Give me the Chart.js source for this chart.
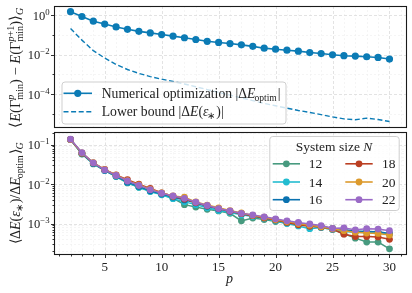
<!DOCTYPE html>
<html><head><meta charset="utf-8">
<script src="https://cdn.jsdelivr.net/npm/chart.js@4"></script>
<style>
html,body{margin:0;padding:0;background:#fff;}
#wrap{position:relative;width:412px;height:293px;overflow:hidden;}
#c1{position:absolute;left:0;top:0;}
#c2{position:absolute;left:0;top:129px;}
</style></head><body>
<div id="wrap">
<canvas id="c1" width="412" height="131"></canvas>
<canvas id="c2" width="412" height="164"></canvas>
</div>
<script>
// ---------------- data ----------------
const pValues = [2,3,4,5,6,7,8,9,10,11,12,13,14,15,16,17,18,19,20,21,22,23,24,25,26,27,28,29,30];
const optimGap = [1.5,0.85,0.49,0.35,0.25,0.19,0.15,0.125,0.103,0.086,0.071,0.058,0.047,0.041,0.036,0.031,0.026,0.021,0.0186,0.0166,0.0148,0.0126,0.0112,0.0097,0.0087,0.0083,0.0077,0.0071,0.0059];
const lowerBound = [0.209,0.0537,0.0158,0.0066,0.0031,0.00174,0.0011,0.00076,0.00056,0.00043,0.00032,0.00023,0.000166,0.00012,0.000087,0.000063,0.000046,0.000033,0.000025,0.000019,0.0000145,0.0000115,0.0000089,0.0000068,0.0000054,0.0000049,0.0000059,0.000005,0.000004];
const sizeLabels = ['12','14','16','18','20','22'];
const ratioN12 = [0.134,0.058,0.0325,0.022,0.0156,0.0107,0.00832,0.00661,0.0055,0.00437,0.00302,0.00263,0.00229,0.00209,0.00182,0.00117,0.00138,0.00126,0.00112,0.00102,0.000933,0.000871,0.000794,0.000708,0.00055,0.000427,0.000339,0.000339,0.000229];
const ratioN14 = [0.135,0.059,0.033,0.0222,0.0158,0.011,0.00832,0.00646,0.00537,0.00427,0.00355,0.00302,0.00251,0.00214,0.00191,0.00166,0.00151,0.00135,0.00117,0.001,0.000871,0.000741,0.000794,0.000708,0.000631,0.000603,0.000589,0.000575,0.000537];
const ratioN16 = [0.137,0.06,0.0335,0.0225,0.016,0.0112,0.00871,0.00676,0.00562,0.00468,0.00398,0.00331,0.00275,0.00234,0.00204,0.00178,0.00158,0.00141,0.00126,0.00112,0.00102,0.000912,0.000832,0.000759,0.000692,0.000646,0.000631,0.000617,0.000562];
const ratioN18 = [0.135,0.061,0.0345,0.0235,0.0172,0.0129,0.01,0.00776,0.00603,0.0049,0.00417,0.00339,0.00282,0.0024,0.00204,0.00178,0.00158,0.00138,0.00123,0.00107,0.000933,0.000851,0.000813,0.000724,0.000537,0.000468,0.000468,0.000457,0.000398];
const ratioN20 = [0.136,0.062,0.035,0.0232,0.0168,0.0123,0.0095,0.0074,0.006,0.005,0.00468,0.00355,0.00295,0.00251,0.00214,0.00186,0.00162,0.00145,0.00126,0.00112,0.001,0.000912,0.000832,0.000741,0.000661,0.000603,0.000575,0.000562,0.000513];
const ratioN22 = [0.138,0.0631,0.0347,0.0229,0.0166,0.012,0.00933,0.00724,0.00589,0.00501,0.00437,0.00347,0.00288,0.0024,0.00209,0.00182,0.00166,0.00148,0.00132,0.00117,0.00107,0.000977,0.000891,0.000759,0.000776,0.000692,0.000741,0.000724,0.000661];
const xMajorTicks = [5,10,15,20,25,30];
const xMinorTicks = [1,2,3,4,6,7,8,9,11,12,13,14,16,17,18,19,21,22,23,24,26,27,28,29,31];
const topYMajorExp = [0,-2,-4];
const topYMinorExp = [-1,-3,-5];
const botYMajorExp = [-1,-2,-3];
const botYMinorMult = [2,3,4,5,6,7,8,9];

// ---------------- styles ----------------
const TOPC = '#0b7bb5';
const sizeColors = ['#479a7f','#22bcd0','#0a72b0','#bb3f22','#dc9a2c','#9a6ac6'];
const XMIN = 0.55, XMAX = 31.45;
const SERIF = '"Liberation Serif","Times New Roman",serif';
function fnt(sz,it){return (it?'italic ':'')+sz+'px '+SERIF;}
function runW(ctx,arr,sz){let w=0;for(const [t,it] of arr){ctx.font=fnt(sz,it);w+=ctx.measureText(t).width;}return w;}
function mathWidth(ctx,segs,sz){let w=0;const ss=sz*0.7;for(const s of segs){ctx.font=fnt(sz,s[1]);w+=ctx.measureText(s[0]).width;const a=s[2]?runW(ctx,s[2],ss):0,b=s[3]?runW(ctx,s[3],ss):0;w+=Math.max(a,b);}return w;}
function drawRun(ctx,arr,x,y,sz){for(const [t,it] of arr){ctx.font=fnt(sz,it);ctx.fillText(t,x,y);x+=ctx.measureText(t).width;}}
function drawMath(ctx,segs,x,y,sz,align){
  const W=mathWidth(ctx,segs,sz);
  if(align==='center')x-=W/2;else if(align==='right')x-=W;
  ctx.textAlign='left';ctx.textBaseline='alphabetic';
  const ss=sz*0.7;
  for(const s of segs){
    ctx.font=fnt(sz,s[1]);ctx.fillText(s[0],x,y);x+=ctx.measureText(s[0]).width;
    let a=0,b=0;
    if(s[2]){drawRun(ctx,s[2],x,y-sz*0.4,ss);a=runW(ctx,s[2],ss);}
    if(s[3]){drawRun(ctx,s[3],x-(s[1]?1:0),y+sz*0.22,ss);b=runW(ctx,s[3],ss);}
    x+=Math.max(a,b);
  }
}
function expLabel(e){return [['10',0,[[e<0?'−'+(-e):String(e),0]]]];}

const topYLabel=[['⟨',0],['E',1],['(',0],['Γ',0,[['p',1]],[['min',0]]],[')',0],[' − ',0],['E',1],['(',0],['Γ',0,[['p',1],['+1',0]],[['min',0]]],[')',0],['⟩',0,null,[['G',1]]]];
const botYLabel=[['⟨',0],['Δ',0],['E',1],['(',0],['ε',1,null,[['∗',0]]],[')',0],['/',0],['Δ',0],['E',1,null,[['optim',0]]],['⟩',0,null,[['G',1]]]];
const legOptim=[['Numerical optimization ',0],['|',0],['Δ',0],['E',1,null,[['optim',0]]],['|',0]];
const legBound=[['Lower bound ',0],['|',0],['Δ',0],['E',1],['(',0],['ε',1,null,[['∗',0]]],[')',0],['|',0]];
const legTitle=[['System size ',0],['N',1]];

function setTicks(list){return list.map(o=>({value:o[0],major:o[1]}));}

function drawGrid(chart){
  const {ctx,chartArea:a,scales:{x,y}}=chart;
  ctx.save();ctx.beginPath();ctx.rect(a.left,a.top,a.right-a.left,a.bottom-a.top);ctx.clip();
  for(const pass of [false,true]){
    ctx.strokeStyle=pass?'#dcdcdc':'#efefef';ctx.lineWidth=pass?0.8:0.6;ctx.setLineDash(pass?[3,2]:[2,2]);
    for(const t of x.ticks){if(!!t.major!==pass)continue;const px=Math.round(x.getPixelForValue(t.value))+0.5;ctx.beginPath();ctx.moveTo(px,a.top);ctx.lineTo(px,a.bottom);ctx.stroke();}
    for(const t of y.ticks){if(!!t.major!==pass)continue;const py=Math.round(y.getPixelForValue(t.value))+0.5;ctx.beginPath();ctx.moveTo(a.left,py);ctx.lineTo(a.right,py);ctx.stroke();}
  }
  ctx.restore();
}
function drawFrame(chart,xTicksOn){
  const {ctx,chartArea:a,scales:{x,y}}=chart;
  ctx.save();ctx.strokeStyle='#1a1a1a';ctx.lineWidth=1.1;ctx.setLineDash([]);
  const L=Math.floor(a.left)+0.5,R=Math.floor(a.right)+0.5,T=Math.floor(a.top)+0.5,B=Math.floor(a.bottom)+0.5;
  ctx.strokeRect(L,T,R-L,B-T);
  ctx.lineWidth=0.9;
  for(const t of y.ticks){const py=Math.round(y.getPixelForValue(t.value))+0.5;if(py<T-1||py>B+1)continue;ctx.beginPath();ctx.moveTo(L,py);ctx.lineTo(L-(t.major?3.5:2),py);ctx.stroke();}
  if(xTicksOn){for(const t of x.ticks){const px=Math.round(x.getPixelForValue(t.value))+0.5;if(px<L||px>R)continue;ctx.beginPath();ctx.moveTo(px,B);ctx.lineTo(px,B+(t.major?3.5:2));ctx.stroke();}}
  ctx.restore();
}
function drawYTickLabels(chart){
  const {ctx,chartArea:a,scales:{y}}=chart;
  ctx.save();ctx.fillStyle='#222';
  for(const t of y.ticks){if(!t.major)continue;const py=y.getPixelForValue(t.value);drawMath(ctx,expLabel(Math.round(Math.log10(t.value))),a.left-4.5,py+4.6,12.5,'right');}
  ctx.restore();
}
function legendBox(ctx,x0,y0,x1,y1){
  ctx.save();ctx.beginPath();ctx.roundRect(x0+0.5,y0+0.5,x1-x0,y1-y0,3);ctx.fillStyle='rgba(255,255,255,0.8)';ctx.fill();ctx.strokeStyle='#cfcfcf';ctx.lineWidth=1;ctx.stroke();ctx.restore();
}
function handle(ctx,xa,xb,y,color,dash,marker,r){
  ctx.save();ctx.strokeStyle=color;ctx.lineWidth=dash?1.4:1.6;ctx.setLineDash(dash||[]);ctx.beginPath();ctx.moveTo(xa,y);ctx.lineTo(xb,y);ctx.stroke();
  if(marker){ctx.fillStyle=color;ctx.beginPath();ctx.arc((xa+xb)/2,y,r,0,Math.PI*2);ctx.fill();}
  ctx.restore();
}

const decorTop={id:'decorTop',
  beforeDatasetsDraw(chart){drawGrid(chart);},
  afterDatasetsDraw(chart){
    const ctx=chart.ctx;
    drawFrame(chart,false);drawYTickLabels(chart);
    ctx.save();ctx.fillStyle='#222';ctx.translate(20,(chart.chartArea.top+chart.chartArea.bottom)/2+1);ctx.rotate(-Math.PI/2);drawMath(ctx,topYLabel,0,0,14.5,'center');ctx.restore();
    legendBox(ctx,61.5,81.5,285.5,123.5);
    handle(ctx,63.5,92,93.3,TOPC,null,true,3.6);
    handle(ctx,63.5,92,111.7,TOPC,[5,2.6],false,0);
    ctx.save();ctx.fillStyle='#222';drawMath(ctx,legOptim,101.7,97.8,13.7,'left');drawMath(ctx,legBound,101.7,116.3,13.7,'left');ctx.restore();
  }
};
const decorBot={id:'decorBot',
  beforeDatasetsDraw(chart){drawGrid(chart);},
  afterDatasetsDraw(chart){
    const ctx=chart.ctx,{chartArea:a,scales:{x}}=chart;
    drawFrame(chart,true);drawYTickLabels(chart);
    ctx.save();ctx.fillStyle='#222';ctx.font=fnt(13,0);ctx.textAlign='center';ctx.textBaseline='alphabetic';
    for(const t of x.ticks){if(!t.major)continue;ctx.fillText(String(t.value),x.getPixelForValue(t.value),142);}
    ctx.font=fnt(14,1);ctx.fillText('p',229.5,154);
    ctx.translate(20,(a.top+a.bottom)/2);ctx.rotate(-Math.PI/2);drawMath(ctx,botYLabel,0,0,14,'center');ctx.restore();
    legendBox(ctx,269.3,7,398.7,81);
    ctx.save();ctx.fillStyle='#222';drawMath(ctx,legTitle,334,21.5,13.5,'center');ctx.restore();
    const rows=[34.8,53,70.7];
    sizeLabels.forEach((lab,i)=>{
      const col=Math.floor(i/3),row=i%3;
      const xa=col?345.3:272.7,xb=col?372.7:300,tx=col?382:308.7;
      handle(ctx,xa,xb,rows[row],sizeColors[i],null,true,3.4);
      ctx.save();ctx.fillStyle='#222';ctx.font=fnt(13.5,0);ctx.textAlign='left';ctx.textBaseline='alphabetic';ctx.fillText(lab,tx,rows[row]+4.5);ctx.restore();
    });
  }
};

function xTickList(){return setTicks(xMinorTicks.map(v=>[v,false]).concat(xMajorTicks.map(v=>[v,true])));}
function pts(arr){return pValues.map((p,i)=>({x:p,y:arr[i]}));}

new Chart(document.getElementById('c1'),{
  type:'line',
  data:{datasets:[
    {data:pts(optimGap),borderColor:TOPC,backgroundColor:TOPC,borderWidth:1.6,pointRadius:3.6,pointBorderWidth:0,pointHoverRadius:0},
    {data:pts(lowerBound),borderColor:TOPC,backgroundColor:TOPC,borderWidth:1.4,borderDash:[5,2.6],pointRadius:0}
  ]},
  options:{responsive:false,animation:false,events:[],
    layout:{padding:{left:0,right:6,top:6,bottom:1}},
    plugins:{legend:{display:false},tooltip:{enabled:false}},
    scales:{
      x:{type:'linear',min:XMIN,max:XMAX,grid:{display:false},border:{display:false},ticks:{display:false},afterFit(s){s.height=0;},afterBuildTicks(s){s.ticks=xTickList();}},
      y:{type:'logarithmic',min:2.0e-6,max:2.9,grid:{display:false},border:{display:false},ticks:{display:false},afterFit(s){s.width=54;},
        afterBuildTicks(s){s.ticks=setTicks(topYMinorExp.map(e=>[Math.pow(10,e),false]).concat(topYMajorExp.map(e=>[Math.pow(10,e),true])));}}
    }},
  plugins:[decorTop]
});

const sizeSeries=[ratioN12,ratioN14,ratioN16,ratioN18,ratioN20,ratioN22];
const botSets=sizeSeries.map((arr,i)=>({data:pts(arr),borderColor:sizeColors[i],backgroundColor:sizeColors[i],borderWidth:1.5,pointRadius:3.4,pointBorderWidth:0,pointHoverRadius:0,order:6-i})).reverse();
const botMinor=[];
for(const e of [-1,-2,-3,-4]){for(const m of botYMinorMult){botMinor.push([m*Math.pow(10,e),false]);}}
new Chart(document.getElementById('c2'),{
  type:'line',
  data:{datasets:botSets},
  options:{responsive:false,animation:false,events:[],
    layout:{padding:{left:0,right:6,top:1,bottom:0}},
    plugins:{legend:{display:false},tooltip:{enabled:false}},
    scales:{
      x:{type:'linear',min:XMIN,max:XMAX,grid:{display:false},border:{display:false},ticks:{display:false},afterFit(s){s.height=39;},afterBuildTicks(s){s.ticks=xTickList();}},
      y:{type:'logarithmic',min:1.69e-4,max:0.205,grid:{display:false},border:{display:false},ticks:{display:false},afterFit(s){s.width=54;},
        afterBuildTicks(s){s.ticks=setTicks(botMinor.concat(botYMajorExp.map(e=>[Math.pow(10,e),true])));}}
    }},
  plugins:[decorBot]
});
</script>
</body></html>
